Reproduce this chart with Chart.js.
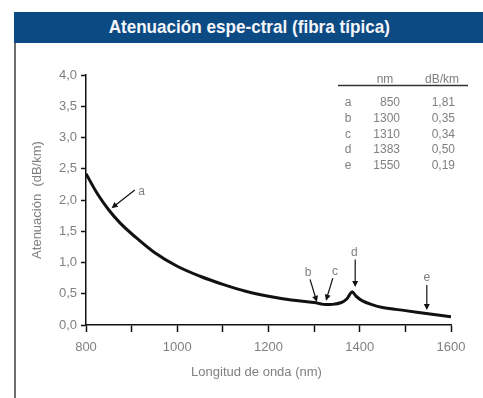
<!DOCTYPE html>
<html>
<head>
<meta charset="utf-8">
<script src="https://cdn.jsdelivr.net/npm/chart.js@4"></script>
<style>
  html, body { margin: 0; padding: 0; background: #fff; }
  #wrap { position: relative; width: 483px; height: 398px; overflow: hidden; }
  #bar {
    position: absolute; left: 14px; top: 12px; width: 469px; height: 31px;
    background: #0c4a84; text-align: center; line-height: 31px;
  }
  #bar span {
    display: inline-block; color: #f4f6fa; margin-left: 2px;
    font: bold 19px "Liberation Sans", Arial, sans-serif;
    transform: scaleX(0.9); transform-origin: center;
  }
  #edge { position: absolute; left: 14px; top: 43px; width: 2px; height: 355px; background: #6e6e6e; }
  canvas { position: absolute; left: 0; top: 0; }
</style>
</head>
<body>
<div id="wrap">
  <div id="bar"><span>Atenuación espe-ctral (fibra típica)</span></div>
  <div id="edge"></div>
  <canvas id="c" width="483" height="398"></canvas>
</div>
<script>
// ─── datos ───────────────────────────────────────────
const wavelengths = [800, 825, 850, 875, 900, 950, 1000, 1050, 1100, 1150, 1200, 1250,
                     1300, 1320, 1340, 1360, 1372, 1383, 1392, 1405, 1425, 1450, 1500, 1550, 1600];
const attenuation = [2.42, 2.10, 1.84, 1.63, 1.46, 1.16, 0.94, 0.78, 0.65, 0.54, 0.46, 0.40,
                     0.36, 0.33, 0.33, 0.36, 0.42, 0.53, 0.46, 0.39, 0.33, 0.28, 0.23, 0.18, 0.13];

// tabla de puntos marcados
const markLetters = ['a', 'b', 'c', 'd', 'e'];
const markNm      = ['850', '1300', '1310', '1383', '1550'];
const markDb      = ['1,81', '0,35', '0,34', '0,50', '0,19'];

// flechas (unidades de datos: nm, dB/km)
const arrowFromNm = [907, 1291, 1341, 1390, 1547];
const arrowFromDb = [2.16, 0.73, 0.75, 1.05, 0.64];
const arrowToNm   = [856, 1306, 1326, 1390, 1547];
const arrowToDb   = [1.87, 0.37, 0.39, 0.61, 0.24];
const labelNm     = [922, 1287, 1346, 1388, 1547];
const labelDb     = [2.13, 0.83, 0.85, 1.16, 0.75];

const xTicksMin = 800, xTicksMax = 1600;
const yTicksMin = 0, yTicksMax = 4;

const GRAY = '#808080';
const FONT = '"Liberation Sans", Arial, sans-serif';

const annotations = {
  id: 'annotations',
  afterDatasetsDraw(chart) {
    const { ctx, scales: { x, y } } = chart;
    ctx.save();
    // flechas
    ctx.strokeStyle = '#111';
    ctx.fillStyle = '#111';
    ctx.lineWidth = 1.2;
    for (let i = 0; i < markLetters.length; i++) {
      const x0 = x.getPixelForValue(arrowFromNm[i]), y0 = y.getPixelForValue(arrowFromDb[i]);
      const x1 = x.getPixelForValue(arrowToNm[i]),   y1 = y.getPixelForValue(arrowToDb[i]);
      const ang = Math.atan2(y1 - y0, x1 - x0);
      ctx.beginPath();
      ctx.moveTo(x0, y0);
      ctx.lineTo(x1 - 4 * Math.cos(ang), y1 - 4 * Math.sin(ang));
      ctx.stroke();
      ctx.beginPath();
      ctx.moveTo(x1, y1);
      ctx.lineTo(x1 - 6 * Math.cos(ang) + 3 * Math.sin(ang), y1 - 6 * Math.sin(ang) - 3 * Math.cos(ang));
      ctx.lineTo(x1 - 6 * Math.cos(ang) - 3 * Math.sin(ang), y1 - 6 * Math.sin(ang) + 3 * Math.cos(ang));
      ctx.closePath();
      ctx.fill();
    }
    // letras
    ctx.fillStyle = GRAY;
    ctx.font = '12px ' + FONT;
    ctx.textAlign = 'center';
    ctx.textBaseline = 'middle';
    for (let i = 0; i < markLetters.length; i++) {
      ctx.fillText(markLetters[i], x.getPixelForValue(labelNm[i]), y.getPixelForValue(labelDb[i]));
    }
    // tabla
    ctx.font = '12px ' + FONT;
    ctx.textAlign = 'center';
    ctx.fillText('nm', 385, 80);
    ctx.fillText('dB/km', 442, 80);
    ctx.strokeStyle = '#333';
    ctx.lineWidth = 1.5;
    ctx.beginPath();
    ctx.moveTo(338, 85.5);
    ctx.lineTo(468, 85.5);
    ctx.stroke();
    for (let i = 0; i < markLetters.length; i++) {
      const ry = 103 + i * 15.7;
      ctx.textAlign = 'center';
      ctx.fillText(markLetters[i], 348, ry);
      ctx.textAlign = 'right';
      ctx.fillText(markNm[i], 400, ry);
      ctx.fillText(markDb[i], 455, ry);
    }
    // título eje x
    ctx.font = '13px ' + FONT;
    ctx.textAlign = 'center';
    ctx.fillText('Longitud de onda (nm)', (chart.chartArea.left + chart.chartArea.right) / 2 - 12, 372);
    ctx.restore();
  }
};

new Chart(document.getElementById('c'), {
  type: 'line',
  data: {
    datasets: [{
      data: wavelengths.map((w, i) => ({ x: w, y: attenuation[i] })),
      borderColor: '#111',
      borderWidth: 3,
      pointRadius: 0,
      tension: 0.35,
      fill: false
    }]
  },
  options: {
    responsive: false,
    animation: false,
    layout: { padding: { left: 26, top: 75, right: 32, bottom: 14 } },
    plugins: { legend: { display: false }, tooltip: { enabled: false } },
    scales: {
      x: {
        type: 'linear',
        min: xTicksMin, max: xTicksMax,
        afterFit(s) { s.height = 59; },
        ticks: {
          stepSize: 100,
          autoSkip: false,
          maxRotation: 0,
          color: GRAY,
          font: { size: 13, family: FONT },
          padding: 8,
          callback: v => (v % 200 === 0 ? String(v) : '')
        },
        grid: { drawOnChartArea: false, drawTicks: true, tickLength: 7, tickColor: '#111', tickWidth: 1.5 },
        border: { color: '#111', width: 1.5 }
      },
      y: {
        min: yTicksMin, max: yTicksMax,
        afterFit(s) { s.width = 60; },
        ticks: {
          stepSize: 0.5,
          color: GRAY,
          font: { size: 13, family: FONT },
          padding: 4,
          callback: v => v.toFixed(1).replace('.', ',')
        },
        title: {
          display: true,
          text: 'Atenuación  (dB/km)',
          color: GRAY,
          font: { size: 13, family: FONT },
          padding: { top: 4, bottom: 0 }
        },
        grid: { drawOnChartArea: false, drawTicks: true, tickLength: 5, tickColor: '#111', tickWidth: 1.5 },
        border: { color: '#111', width: 1.5 }
      }
    }
  },
  plugins: [annotations]
});
</script>
</body>
</html>
